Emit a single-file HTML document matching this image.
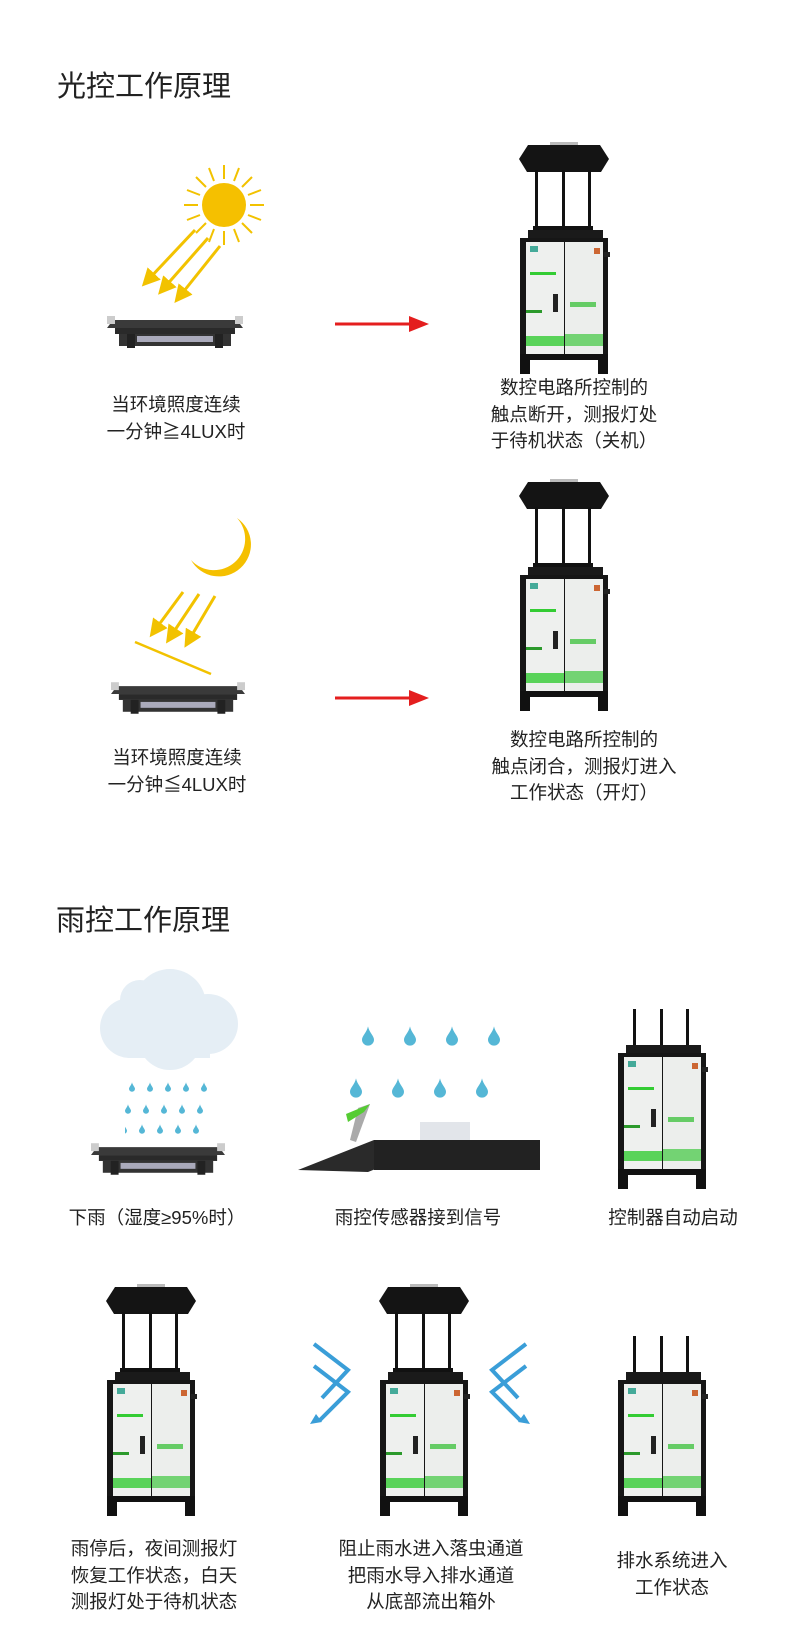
<!DOCTYPE html>
<html><head><meta charset="utf-8"><style>
body{margin:0;width:790px;height:1649px;background:#fff;position:relative;overflow:hidden;font-family:"Liberation Sans","Noto Sans CJK SC",sans-serif;color:#222}
.a{position:absolute}
.t{position:absolute;font-size:29px;color:#222}
.l{position:absolute;font-size:18.5px;line-height:26.5px;text-align:center;white-space:nowrap;transform:translateX(-50%)}
</style></head><body>
<svg width="0" height="0" style="position:absolute">
<defs>
<symbol id="cab" viewBox="0 0 92 144">
<rect x="10" y="0" width="75" height="9" fill="#1a1a1a"/>
<rect x="2" y="8" width="88" height="120" fill="#161616"/>
<rect x="86" y="22" width="6" height="5" fill="#222"/>
<rect x="8" y="12" width="38" height="112" fill="#eef0ee"/>
<rect x="47" y="12" width="38" height="112" fill="#eceeec"/>
<rect x="12" y="16" width="8" height="6" fill="#4a9"/>
<rect x="12" y="42" width="26" height="3" fill="#3c3"/>
<rect x="8" y="80" width="16" height="3" fill="#2c9a2c"/>
<rect x="35" y="64" width="5" height="18" fill="#222"/>
<rect x="52" y="72" width="26" height="5" fill="#6c6"/>
<rect x="8" y="106" width="38" height="10" fill="#3c3" opacity=".8"/>
<rect x="47" y="104" width="38" height="12" fill="#5c5" opacity=".8"/>
<rect x="76" y="18" width="6" height="6" fill="#c63"/>
<rect x="2" y="124" width="10" height="20" fill="#111"/>
<rect x="80" y="124" width="10" height="20" fill="#111"/>
<rect x="2" y="124" width="88" height="6" fill="#111"/>
</symbol>
<symbol id="dev" viewBox="0 0 92 232">
<rect x="32" y="0" width="28" height="4" fill="#bbb"/>
<polygon points="10,3 82,3 91,17 83,30 9,30 1,17" fill="#141414"/>
<rect x="17" y="28" width="3" height="62" fill="#111"/>
<rect x="44" y="28" width="3" height="62" fill="#111"/>
<rect x="70" y="28" width="3" height="62" fill="#111"/>
<rect x="15" y="84" width="60" height="4" fill="#111"/>
<use href="#cab" x="0" y="88" width="92" height="144"/>
</symbol>
<symbol id="dev2" viewBox="0 0 92 180">
<rect x="17" y="0" width="3" height="42" fill="#111"/>
<rect x="44" y="0" width="3" height="42" fill="#111"/>
<rect x="70" y="0" width="3" height="42" fill="#111"/>
<rect x="15" y="36" width="60" height="4" fill="#111"/>
<use href="#cab" x="0" y="36" width="92" height="144"/>
</symbol>
<symbol id="lamp" viewBox="0 0 136 34">
<polygon points="6,6 130,6 136,14 0,14" fill="#3a3a3a"/>
<rect x="0" y="2" width="8" height="8" fill="#ccc"/><rect x="128" y="2" width="8" height="8" fill="#ccc"/>
<rect x="8" y="14" width="120" height="6" fill="#2a2a2a"/>
<rect x="12" y="20" width="112" height="12" fill="#333"/>
<rect x="30" y="22" width="76" height="6" fill="#aab"/>
<rect x="20" y="20" width="8" height="14" fill="#222"/><rect x="108" y="20" width="8" height="14" fill="#222"/>
</symbol>
<symbol id="drop" viewBox="0 0 10 16"><path d="M5 0 C6 5 10 8 10 11 A5 5 0 0 1 0 11 C0 8 4 5 5 0Z" fill="#55b7d6"/></symbol>
<marker id="ya" markerWidth="6" markerHeight="6" refX="3" refY="3" orient="auto"><path d="M0 0L6 3L0 6Z" fill="#f2c200"/></marker>
</defs></svg>

<div class="t" style="left:57px;top:63px">光控工作原理</div>
<div class="t" style="left:56px;top:897px">雨控工作原理</div>

<!-- sun -->
<svg class="a" style="left:140px;top:160px" width="140" height="150">
<g stroke="#f2c200" stroke-width="2">
<g transform="translate(84,45)">
<line x1="0" y1="-26" x2="0" y2="-40"/><line x1="0" y1="26" x2="0" y2="40"/><line x1="-26" y1="0" x2="-40" y2="0"/><line x1="26" y1="0" x2="40" y2="0"/>
<line x1="18" y1="18" x2="28" y2="28"/><line x1="-18" y1="18" x2="-28" y2="28"/><line x1="18" y1="-18" x2="28" y2="-28"/><line x1="-18" y1="-18" x2="-28" y2="-28"/>
<line x1="10" y1="-24" x2="15" y2="-37"/><line x1="-10" y1="-24" x2="-15" y2="-37"/><line x1="10" y1="24" x2="15" y2="37"/><line x1="-10" y1="24" x2="-15" y2="37"/>
<line x1="24" y1="10" x2="37" y2="15"/><line x1="24" y1="-10" x2="37" y2="-15"/><line x1="-24" y1="10" x2="-37" y2="15"/><line x1="-24" y1="-10" x2="-37" y2="-15"/>
</g></g>
<circle cx="84" cy="45" r="22" fill="#f5c000"/>
<g stroke="#f2c200" stroke-width="3" marker-end="url(#ya)">
<line x1="55" y1="70" x2="8" y2="120"/><line x1="68" y1="78" x2="24" y2="128"/><line x1="80" y1="86" x2="40" y2="136"/>
</g></svg>
<svg class="a" style="left:107px;top:314px" width="137" height="35"><use href="#lamp" width="136" height="34"/></svg>
<div class="l" style="left:176px;top:392px">当环境照度连续<br>一分钟≧4LUX时</div>
<svg class="a" style="left:333px;top:314px" width="100" height="20"><line x1="2" y1="10" x2="80" y2="10" stroke="#e41e1e" stroke-width="3"/><path d="M76 2L96 10L76 18Z" fill="#e41e1e"/></svg>
<svg class="a" style="left:518px;top:142px" width="93" height="232"><use href="#dev" width="92" height="232"/></svg>
<div class="l" style="left:574px;top:375px">数控电路所控制的<br>触点断开，测报灯处<br>于待机状态（关机）</div>

<!-- moon -->
<svg class="a" style="left:125px;top:510px" width="140" height="170">
<path d="M112 8 A32 32 0 1 1 66 50 A28 28 0 0 0 112 8Z" fill="#f5c000"/>
<g stroke="#f2c200" stroke-width="3" marker-end="url(#ya)">
<line x1="58" y1="82" x2="30" y2="120"/><line x1="74" y1="84" x2="46" y2="126"/><line x1="90" y1="86" x2="64" y2="130"/>
</g>
<line x1="10" y1="132" x2="86" y2="164" stroke="#f2c200" stroke-width="2.5"/>
</svg>
<svg class="a" style="left:111px;top:680px" width="134" height="35"><use href="#lamp" width="134" height="34"/></svg>
<div class="l" style="left:177px;top:745px">当环境照度连续<br>一分钟≦4LUX时</div>
<svg class="a" style="left:333px;top:688px" width="100" height="20"><line x1="2" y1="10" x2="80" y2="10" stroke="#e41e1e" stroke-width="3"/><path d="M76 2L96 10L76 18Z" fill="#e41e1e"/></svg>
<svg class="a" style="left:518px;top:479px" width="93" height="232"><use href="#dev" width="92" height="232"/></svg>
<div class="l" style="left:584px;top:727px">数控电路所控制的<br>触点闭合，测报灯进入<br>工作状态（开灯）</div>

<!-- rain row -->
<svg class="a" style="left:90px;top:960px" width="160" height="220">
<g fill="#e5eef5"><circle cx="80" cy="45" r="36"/><circle cx="40" cy="68" r="30"/><circle cx="118" cy="64" r="30"/><circle cx="80" cy="78" r="32"/><circle cx="50" cy="40" r="20"/><rect x="40" y="60" width="80" height="38"/></g>
</svg>
<svg class="a" style="left:125px;top:1080px" width="100" height="60">
<g><use href="#drop" x="4" y="2" width="6" height="10"/><use href="#drop" x="22" y="2" width="6" height="10"/><use href="#drop" x="40" y="2" width="6" height="10"/><use href="#drop" x="58" y="2" width="6" height="10"/><use href="#drop" x="76" y="2" width="6" height="10"/>
<use href="#drop" x="0" y="24" width="6" height="10"/><use href="#drop" x="18" y="24" width="6" height="10"/><use href="#drop" x="36" y="24" width="6" height="10"/><use href="#drop" x="54" y="24" width="6" height="10"/><use href="#drop" x="72" y="24" width="6" height="10"/>
<use href="#drop" x="-4" y="44" width="6" height="10"/><use href="#drop" x="14" y="44" width="6" height="10"/><use href="#drop" x="32" y="44" width="6" height="10"/><use href="#drop" x="50" y="44" width="6" height="10"/><use href="#drop" x="68" y="44" width="6" height="10"/></g>
</svg>
<svg class="a" style="left:91px;top:1141px" width="134" height="34"><use href="#lamp" width="134" height="34"/></svg>
<div class="l" style="left:157px;top:1205px">下雨（湿度≥95%时）</div>

<svg class="a" style="left:298px;top:1010px" width="245" height="165">
<g><use href="#drop" x="64" y="14" width="12" height="24"/><use href="#drop" x="106" y="14" width="12" height="24"/><use href="#drop" x="148" y="14" width="12" height="24"/><use href="#drop" x="190" y="14" width="12" height="24"/>
<use href="#drop" x="52" y="66" width="12" height="24"/><use href="#drop" x="94" y="66" width="12" height="24"/><use href="#drop" x="136" y="66" width="12" height="24"/><use href="#drop" x="178" y="66" width="12" height="24"/></g>
<polygon points="60,98 72,94 58,132 52,130" fill="#aaa"/>
<polygon points="48,104 72,94 66,102 50,112" fill="#5c3"/>
<rect x="122" y="112" width="50" height="20" fill="#e2e5ea"/>
<polygon points="0,160 76,130 242,130 242,158 80,158 70,162" fill="#2a2a2a"/>
<rect x="76" y="130" width="166" height="30" fill="#222"/>
</svg>
<div class="l" style="left:418px;top:1205px">雨控传感器接到信号</div>

<svg class="a" style="left:616px;top:1009px" width="92" height="180"><use href="#dev2" width="92" height="180"/></svg>
<div class="l" style="left:673px;top:1205px">控制器自动启动</div>

<!-- row 4 -->
<svg class="a" style="left:105px;top:1284px" width="93" height="232"><use href="#dev" width="92" height="232"/></svg>
<svg class="a" style="left:378px;top:1284px" width="93" height="232"><use href="#dev" width="92" height="232"/></svg>
<svg class="a" style="left:616px;top:1336px" width="92" height="180"><use href="#dev2" width="92" height="180"/></svg>
<svg class="a" style="left:300px;top:1336px" width="240" height="90" fill="none" stroke="#3a9ed8" stroke-width="4">
<polyline points="14,8 48,34 22,62"/><polyline points="14,30 48,56 20,84"/>
<path d="M16 78L10 88L22 86" fill="#3a9ed8" stroke="none"/>
<polyline points="226,8 192,34 218,62"/><polyline points="226,30 192,56 220,84"/>
<path d="M224 78L230 88L218 86" fill="#3a9ed8" stroke="none"/>
</svg>
<div class="l" style="left:154px;top:1536px">雨停后，夜间测报灯<br>恢复工作状态，白天<br>测报灯处于待机状态</div>
<div class="l" style="left:431px;top:1536px">阻止雨水进入落虫通道<br>把雨水导入排水通道<br>从底部流出箱外</div>
<div class="l" style="left:672px;top:1548px">排水系统进入<br>工作状态</div>
</body></html>
